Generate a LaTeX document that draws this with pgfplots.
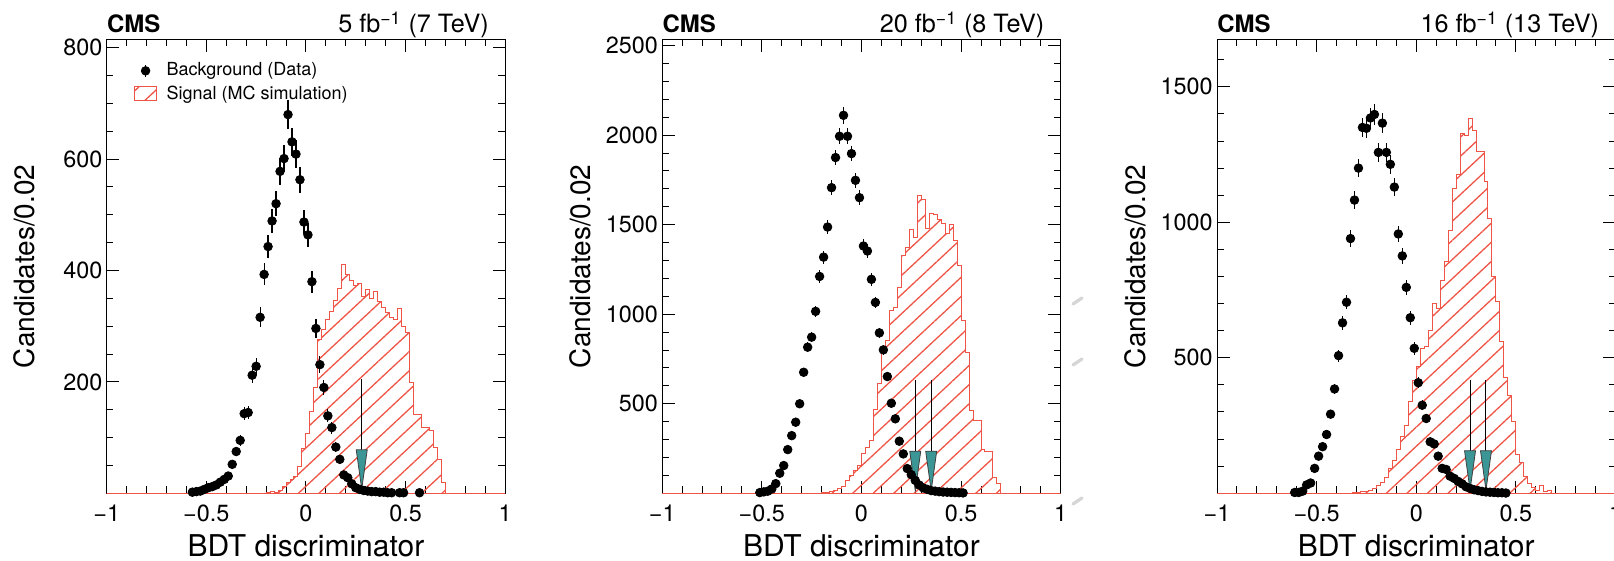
\documentclass[border=0pt]{standalone}
\usepackage{fontspec}
\setmainfont{TeX Gyre Heros}
\usepackage{pgfplots}
\pgfplotsset{compat=1.18}
\usepackage{pgfplotstable}
\usetikzlibrary{patterns.meta}

\definecolor{sigred}{RGB}{238,85,70}
\definecolor{cutteal}{RGB}{60,150,150}

% ---------- background (data), bin centre / count / stat. error ----------
\pgfplotstableread{
x y e
-0.57 2 1.4
-0.55 3 1.7
-0.53 4 2
-0.51 7 2.6
-0.49 10 3.2
-0.47 12 3.5
-0.45 15 3.9
-0.43 20 4.5
-0.41 25 5
-0.39 31 5.6
-0.37 52 7.2
-0.35 75 8.7
-0.33 95 9.7
-0.31 143 12
-0.29 145 12
-0.27 212 14.6
-0.25 228 15.1
-0.23 316 17.8
-0.21 393 19.8
-0.19 443 21
-0.17 489 22.1
-0.15 520 22.8
-0.13 578 24
-0.11 601 24.5
-0.09 680 26.1
-0.07 631 25.1
-0.05 609 24.7
-0.03 563 23.7
-0.01 487 22.1
0.01 464 21.5
0.03 380 19.5
0.05 296 17.2
0.07 231 15.2
0.09 190 13.8
0.11 139 11.8
0.13 118 10.9
0.15 83 9.1
0.17 61 7.8
0.19 33 5.7
0.21 28 5.3
0.23 17 4.1
0.25 10 3.2
0.27 7 2.6
0.29 5 2.2
0.31 4 2
0.33 3 1.7
0.35 3 1.7
0.37 2 1.4
0.39 2 1.4
0.41 1 1
0.43 1 1
0.47 1 1
0.49 1 1
0.57 1 1
}\bkgA

\pgfplotstableread{
x y e
-0.51 4 2
-0.49 8 2.8
-0.47 12 3.5
-0.45 24 4.9
-0.43 54 7.3
-0.41 112 10.6
-0.39 155 12.4
-0.37 244 15.6
-0.35 322 17.9
-0.33 397 19.9
-0.31 500 22.4
-0.29 676 26
-0.27 816 28.6
-0.25 872 29.5
-0.23 1016 31.9
-0.21 1211 34.8
-0.19 1319 36.3
-0.17 1487 38.6
-0.15 1707 41.3
-0.13 1875 43.3
-0.11 1994 44.7
-0.09 2111 45.9
-0.07 1994 44.7
-0.05 1897 43.6
-0.03 1748 41.8
-0.01 1651 40.6
0.01 1381 37.2
0.03 1353 36.8
0.05 1195 34.6
0.07 1066 32.6
0.09 896 29.9
0.11 801 28.3
0.13 652 25.5
0.15 503 22.4
0.17 416 20.4
0.19 291 17.1
0.21 220 14.8
0.23 138 11.7
0.25 104 10.2
0.27 72 8.5
0.29 46 6.8
0.31 30 5.5
0.33 22 4.7
0.35 15 3.9
0.37 12 3.5
0.39 9 3
0.41 7 2.6
0.43 6 2.4
0.45 5 2.2
0.47 4 2
0.49 3 1.7
0.51 2 1.4
}\bkgB

\pgfplotstableread{
x y e
-0.61 3 1.7
-0.59 3 1.7
-0.57 8 2.8
-0.55 31 5.6
-0.53 38 6.2
-0.51 92 9.6
-0.49 137 11.7
-0.47 172 13.1
-0.45 217 14.7
-0.43 292 17.1
-0.41 385 19.6
-0.39 508 22.5
-0.37 629 25.1
-0.35 705 26.6
-0.33 940 30.7
-0.31 1082 32.9
-0.29 1200 34.6
-0.27 1350 36.7
-0.25 1347 36.7
-0.23 1385 37.2
-0.21 1398 37.4
-0.19 1258 35.5
-0.17 1366 37
-0.15 1258 35.5
-0.13 1214 34.8
-0.11 1130 33.6
-0.09 957 30.9
-0.07 876 29.6
-0.05 760 27.6
-0.03 648 25.5
-0.01 535 23.1
0.01 408 20.2
0.03 325 18
0.05 276 16.6
0.07 190 13.8
0.09 182 13.5
0.11 137 11.7
0.13 92 9.6
0.15 88 9.4
0.17 63 7.9
0.19 55 7.4
0.21 44 6.6
0.23 35 5.9
0.25 24 4.9
0.27 18 4.2
0.29 13 3.6
0.31 10 3.2
0.33 7 2.6
0.35 5 2.2
0.37 4 2
0.39 3 1.7
0.41 2 1.4
0.43 2 1.4
0.45 1 1
}\bkgC

% ---------- signal (MC), bin low edge / content ----------
\pgfplotstableread{
x y
-1.00 0
-0.20 1
-0.18 3
-0.16 2
-0.14 5
-0.12 12
-0.10 20
-0.08 25
-0.06 30
-0.04 48
-0.02 80
0.00 108
0.02 146
0.04 190
0.06 276
0.08 294
0.10 312
0.12 327
0.14 347
0.16 367
0.18 411
0.20 392
0.22 382
0.24 373
0.26 376
0.28 353
0.30 366
0.32 350
0.34 363
0.36 344
0.38 334
0.40 325
0.42 315
0.44 312
0.46 331
0.48 300
0.50 288
0.52 199
0.54 142
0.56 142
0.58 118
0.60 118
0.62 112
0.64 82
0.66 61
0.68 20
0.70 0
1.00 0
}\sigA

\pgfplotstableread{
x y
-1.00 0
-0.20 2
-0.18 5
-0.16 8
-0.14 15
-0.12 25
-0.10 40
-0.08 70
-0.06 100
-0.04 128
-0.02 155
0.00 225
0.02 255
0.04 295
0.06 470
0.08 615
0.10 805
0.12 854
0.14 1021
0.16 1040
0.18 1152
0.20 1329
0.22 1375
0.24 1476
0.26 1431
0.28 1664
0.30 1640
0.32 1480
0.34 1565
0.36 1558
0.38 1530
0.40 1506
0.42 1450
0.44 1500
0.46 1413
0.48 1273
0.50 966
0.52 788
0.54 462
0.56 406
0.58 406
0.60 245
0.62 236
0.64 236
0.66 89
0.68 55
0.70 0
1.00 0
}\sigB

\pgfplotstableread{
x y
-1.00 0
-0.32 2
-0.30 3
-0.28 5
-0.26 8
-0.24 12
-0.22 18
-0.20 28
-0.18 38
-0.16 58
-0.14 91
-0.12 122
-0.10 160
-0.08 209
-0.06 252
-0.04 338
-0.02 418
0.00 467
0.02 535
0.04 541
0.06 602
0.08 701
0.10 683
0.12 787
0.14 854
0.16 971
0.18 1125
0.20 1175
0.22 1328
0.24 1322
0.26 1384
0.28 1338
0.30 1261
0.32 1261
0.34 1150
0.36 1014
0.38 799
0.40 707
0.42 559
0.44 428
0.46 362
0.48 264
0.50 144
0.52 115
0.54 61
0.56 36
0.58 22
0.60 10
0.62 27
0.64 5
0.66 10
0.68 0
1.00 0
}\sigC

\tikzset{hatch/.style={pattern={Lines[angle=43,distance=7pt,line width=0.65pt]},
    pattern color=sigred}}

\pgfplotsset{
  bdtpanel/.style={
    scale only axis, width=199.25pt, height=226.95pt,
    anchor=south west,
    xmin=-1, xmax=1, ymin=0,
    clip=false,
    axis line style={line width=0.5pt},
    tick style={black, line width=0.5pt},
    tick align=inside,
    major tick length=6.3pt, minor tick length=3.4pt,
    xtick={-1,-0.5,0,0.5,1},
    xticklabels={−1,−0.5,0,0.5,1},
    minor xtick={-0.9,-0.8,-0.7,-0.6,-0.4,-0.3,-0.2,-0.1,0.1,0.2,0.3,0.4,0.6,0.7,0.8,0.9},
    ticklabel style={font=\fontsize{11.7}{13}\selectfont},
    xticklabel style={inner sep=0pt, anchor=north, yshift=-5.6pt},
    yticklabel style={inner sep=0pt, anchor=east, xshift=-2pt},
    xlabel={BDT discriminator},
    ylabel={Candidates/0.02},
    xlabel style={at={(axis description cs:0.5,-0.1403)}, anchor=base,
      inner sep=0pt, font=\fontsize{15}{17}\selectfont},
    ylabel style={at={(axis description cs:-0.1807,0.5)}, anchor=base,
      inner sep=0pt, font=\fontsize{14}{16}\selectfont},
  },
  sig/.style={const plot, draw=sigred, line width=0.5pt, hatch},
  bkg/.style={only marks, mark=*, mark size=2.15pt, black,
    error bars/y dir=both, error bars/y explicit, error bars/error mark=none,
    error bars/error bar style={line width=0.6pt, black}},
  cutline/.style={black, line width=0.5pt},
  cutarrow/.style={fill=cutteal, draw=black!75, line width=0.4pt},
}

\newcommand{\cmslabel}{\node[anchor=base west, inner sep=0pt,
  font=\bfseries\fontsize{12}{14}\selectfont]
  at ([yshift=3.25pt]rel axis cs:0,1) {CMS};}
\newcommand{\lumilabel}[1]{\node[anchor=base east, inner sep=0pt,
  font=\fontsize{12.6}{14}\selectfont]
  at ([xshift=-8pt,yshift=3.25pt]rel axis cs:1,1) {#1};}

\begin{document}
\begin{tikzpicture}
\useasboundingbox (0,0) rectangle (807pt,280.5pt);

% ---------------- 7 TeV ----------------
\begin{axis}[bdtpanel, at={(53.35pt,33.85pt)},
  ymax=815,
  ytick={200,400,600,800},
  yticklabels={200,400,600,800},
  minor ytick={50,100,150,250,300,350,450,500,550,650,700,750},
  legend style={at={(rel axis cs:0,1)}, anchor=north west,
    xshift=13.3pt, yshift=-9.5pt,
    draw=none, fill=none, inner sep=0pt,
    font=\fontsize{9}{10}\selectfont,
    row sep=-0.6pt,
    cells={anchor=west},
    /tikz/every odd column/.append style={column sep=2.6pt}},
  legend cell align=left,
]
\addlegendimage{legend image code/.code={
  \draw[black, line width=0.6pt] (5.7pt,-3pt) -- (5.7pt,3pt);
  \fill[black] (5.7pt,0pt) circle (2.15pt);}}
\addlegendentry{Background (Data)}
\addlegendimage{legend image code/.code={
  \draw[sigred, line width=0.5pt, hatch] (0pt,-3.5pt) rectangle (11.35pt,3.5pt);}}
\addlegendentry{Signal (MC simulation)}

\addplot[sig, forget plot] table[x=x, y=y] {\sigA} \closedcycle;
\addplot[bkg, forget plot] table[x=x, y=y, y error=e] {\bkgA};
\addplot[cutline, forget plot] coordinates {(0.28,7.5) (0.28,204.5)};
\addplot[cutarrow, forget plot] coordinates {(0.2524,78) (0.3076,78) (0.28,7.5)} -- cycle;
\cmslabel
\lumilabel{5 fb\textsuperscript{−1} (7 TeV)}
\end{axis}

% ---------------- 8 TeV ----------------
\begin{axis}[bdtpanel, at={(331.1pt,33.85pt)},
  ymax=2535,
  ytick={500,1000,1500,2000,2500},
  yticklabels={500,1000,1500,2000,2500},
  minor ytick={100,200,300,400,600,700,800,900,1100,1200,1300,1400,1600,1700,1800,1900,2100,2200,2300,2400},
]
\addplot[sig] table[x=x, y=y] {\sigB} \closedcycle;
\addplot[bkg] table[x=x, y=y, y error=e] {\bkgB};
\addplot[cutline] coordinates {(0.27,15) (0.27,630)};
\addplot[cutline] coordinates {(0.35,15) (0.35,630)};
\addplot[cutarrow] coordinates {(0.2424,235) (0.2976,235) (0.27,15)} -- cycle;
\addplot[cutarrow] coordinates {(0.3224,235) (0.3776,235) (0.35,15)} -- cycle;
\cmslabel
\lumilabel{20 fb\textsuperscript{−1} (8 TeV)}
\end{axis}

% ---------------- 13 TeV ----------------
\begin{axis}[bdtpanel, at={(608.5pt,33.85pt)},
  ymax=1675,
  ytick={500,1000,1500},
  yticklabels={500,1000,1500},
  minor ytick={100,200,300,400,600,700,800,900,1100,1200,1300,1400,1600},
]
\addplot[sig] table[x=x, y=y] {\sigC} \closedcycle;
\addplot[bkg] table[x=x, y=y, y error=e] {\bkgC};
\addplot[cutline] coordinates {(0.27,12) (0.27,418)};
\addplot[cutline] coordinates {(0.35,12) (0.35,418)};
\addplot[cutarrow] coordinates {(0.2424,157) (0.2976,157) (0.27,12)} -- cycle;
\addplot[cutarrow] coordinates {(0.3224,157) (0.3776,157) (0.35,12)} -- cycle;
\cmslabel
\lumilabel{16 fb\textsuperscript{−1} (13 TeV)}
\end{axis}

% faint marks in the gap between the second and third panels
\draw[black!16, line width=1.6pt, line cap=round] (536.5pt,128.5pt) -- (541pt,131.5pt);
\draw[black!16, line width=1.6pt, line cap=round] (536.5pt,98pt) -- (541pt,101pt);
\draw[black!16, line width=1.6pt, line cap=round] (536.5pt,28.5pt) -- (541pt,31.5pt);
\end{tikzpicture}
\end{document}
